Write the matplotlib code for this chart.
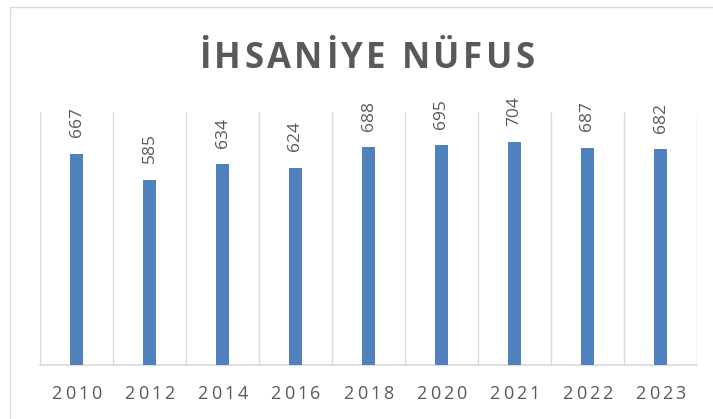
import matplotlib
matplotlib.use("Agg")
import numpy as np
import matplotlib.pyplot as plt
from matplotlib.patches import Rectangle

# DATA
years = ["2010", "2012", "2014", "2016", "2018", "2020", "2021", "2022", "2023"]
population = [667, 585, 634, 624, 688, 695, 704, 687, 682]
title = "İHSANİYE NÜFUS"

# STYLE
W, H = 713, 419
BAR_COLOR = "#4f81bd"
GRID_COLOR = "#d9d9d9"
TEXT_COLOR = "#595959"
FONT = ["Open Sans", "DejaVu Sans"]

fig = plt.figure(figsize=(W / 100, H / 100), dpi=100)
ax = fig.add_axes([40 / W, 1 - 365 / H, (697 - 40) / W, (365 - 112) / H])

x = np.arange(len(years))
ax.bar(x, population, width=0.18, color=BAR_COLOR, zorder=3)

ax.set_xlim(-0.5, len(years) - 0.5)
ax.set_ylim(0, 800)
ax.vlines(np.arange(-0.5, len(years)), 0, 800, color=GRID_COLOR, lw=1, zorder=1)

for s in ("top", "right", "left"):
    ax.spines[s].set_visible(False)
ax.spines["bottom"].set_color(GRID_COLOR)
ax.spines["bottom"].set_linewidth(1.2)
ax.set_xticks([])
ax.set_yticks([])

# data labels, rotated like the original
for xi, v in zip(x, population):
    ax.annotate(str(v), (xi, v), xytext=(0, 12), textcoords="offset points",
                rotation=90, ha="center", va="bottom",
                fontsize=12.5, color=TEXT_COLOR, family=FONT)

# chart area frame (right/bottom edges fall outside the picture)
fig.patches.append(Rectangle((10 / W, -0.1), 1.0, 1 - 7 / H + 0.1,
                             transform=fig.transFigure, fill=False,
                             ec=GRID_COLOR, lw=1))

renderer = fig.canvas.get_renderer()


def spaced_text(cx, y, s, track, **kw):
    # matplotlib has no letter spacing, so place glyphs one by one
    def width(t):
        tt = fig.text(0, 0, t, **kw)
        w = tt.get_window_extent(renderer).width
        tt.remove()
        return w

    base = width("HH")
    widths = [width("H" + c + "H") - base for c in s]
    total = sum(widths) + track * (len(s) - 1)
    x0 = cx - total / 2
    for c, cw in zip(s, widths):
        fig.text(x0 / W, y / H, c, ha="left", va="baseline", **kw)
        x0 += cw + track


# x tick labels
for xi, yr in zip(x, years):
    px = ax.transData.transform((xi, 0))[0]
    spaced_text(px, H - 399, yr, 3.0, fontsize=13, color=TEXT_COLOR, family=FONT)

# title
spaced_text(367, H - 68, title, 3.5, fontsize=25, fontweight="bold",
            color=TEXT_COLOR, family=FONT)

fig.savefig("out.png", dpi=100)
